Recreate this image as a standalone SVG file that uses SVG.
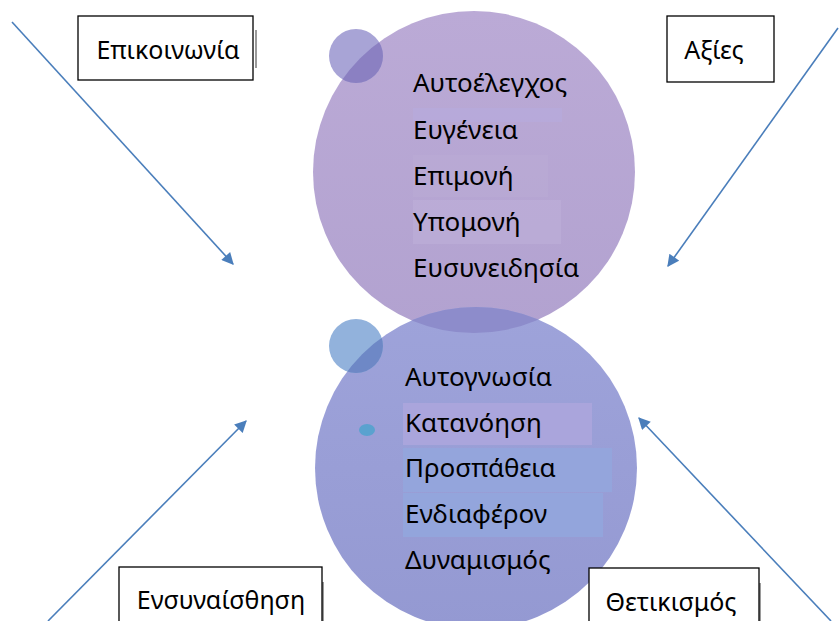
<svg xmlns="http://www.w3.org/2000/svg" width="839" height="621" viewBox="0 0 839 621">
<defs>
<style>
.box{fill:#fff;stroke:#000;stroke-width:1.3}
.sh{stroke:#9a9a9a;stroke-width:2}
.lbl{font-family:"Noto Sans","Liberation Sans",sans-serif;font-size:25px;fill:#000}
.item{font-family:"Noto Sans","Liberation Sans",sans-serif;font-size:26px;fill:#000}
.conn{stroke:#4a7ebb;stroke-width:1.6;fill:none;marker-end:url(#ah)}
</style>
<marker id="ah" viewBox="0 0 10 10" refX="9" refY="5" markerWidth="14" markerHeight="12" markerUnits="userSpaceOnUse" orient="auto">
<path d="M0,0 L10,5 L0,10 z" fill="#4a7ebb"/>
</marker>
<linearGradient id="gTop" x1="0" y1="0" x2="0" y2="1">
<stop offset="0" stop-color="#bbaad6"/>
<stop offset="1" stop-color="#b2a2d0"/>
</linearGradient>
<linearGradient id="gBot" x1="0" y1="0" x2="0" y2="1">
<stop offset="0" stop-color="#9ea3da"/>
<stop offset="1" stop-color="#9499d2"/>
</linearGradient>
<clipPath id="cTop"><circle cx="474" cy="172" r="161"/></clipPath>
<clipPath id="cBot"><circle cx="476" cy="468" r="161"/></clipPath>
</defs>

<g id="circle-top">
<circle cx="474" cy="172" r="161" fill="url(#gTop)"/>
</g>
<g id="circle-bottom">
<circle cx="476" cy="468" r="161" fill="url(#gBot)"/>
<circle cx="474" cy="172" r="161" fill="#8d8ccb" clip-path="url(#cBot)"/>
</g>
<g id="bubbles">
<circle cx="356" cy="56" r="27" fill="#a8a4d6"/>
<circle cx="356" cy="56" r="27" fill="#8b80c2" clip-path="url(#cTop)"/>
<circle cx="356" cy="346" r="27" fill="#92b2dc"/>
<circle cx="356" cy="346" r="27" fill="#6e88c6" clip-path="url(#cBot)"/>
<ellipse cx="367" cy="430" rx="8" ry="6" fill="#5aa2cf"/>
</g>

<g id="highlights">
<rect x="413" y="108" width="149" height="14" fill="#b6ace0" opacity="0.5"/>
<rect x="413" y="155" width="135" height="42" fill="#bcaed8" opacity="0.35"/>
<rect x="413" y="200" width="148" height="44" fill="#c0b3db" opacity="0.45"/>
<rect x="403" y="403" width="189" height="42" fill="#aaa5dc"/>
<rect x="403" y="448" width="209" height="44" fill="#94a5dc"/>
<rect x="403" y="493" width="200" height="44" fill="#93a5dc"/>
</g>

<g id="list-top">
<text class="item" x="413" y="92">Αυτοέλεγχος</text>
<text class="item" x="413" y="139">Ευγένεια</text>
<text class="item" x="413" y="185">Επιμονή</text>
<text class="item" x="413" y="231">Υπομονή</text>
<text class="item" x="413" y="277">Ευσυνειδησία</text>
</g>
<g id="list-bottom">
<text class="item" x="405" y="386">Αυτογνωσία</text>
<text class="item" x="405" y="432">Κατανόηση</text>
<text class="item" x="405" y="477">Προσπάθεια</text>
<text class="item" x="405" y="523">Ενδιαφέρον</text>
<text class="item" x="405" y="569">Δυναμισμός</text>
</g>

<g id="box-epikoinonia">
<line class="sh" x1="256" y1="30" x2="256" y2="68"/>
<rect class="box" x="78" y="16" width="175" height="64"/>
<text class="lbl" x="168" y="59" text-anchor="middle">Επικοινωνία</text>
</g>
<g id="box-axies">
<rect class="box" x="667" y="16" width="107" height="66"/>
<text class="lbl" x="714" y="59" text-anchor="middle">Αξίες</text>
</g>
<g id="box-ensynaisthisi">
<line class="sh" x1="323" y1="582" x2="323" y2="621"/>
<rect class="box" x="119" y="567" width="203" height="60"/>
<text class="lbl" x="221" y="609" text-anchor="middle">Ενσυναίσθηση</text>
</g>
<g id="box-thetikismos">
<line class="sh" x1="760" y1="583" x2="760" y2="621"/>
<rect class="box" x="589" y="568" width="170" height="60"/>
<text class="lbl" x="671" y="611" text-anchor="middle">Θετικισμός</text>
</g>

<g id="connectors">
<line class="conn" x1="12" y1="22" x2="233" y2="264"/>
<line class="conn" x1="838" y1="28" x2="668" y2="266"/>
<line class="conn" x1="48" y1="621" x2="246" y2="421"/>
<line class="conn" x1="831" y1="621" x2="639" y2="418"/>
</g>
</svg>
